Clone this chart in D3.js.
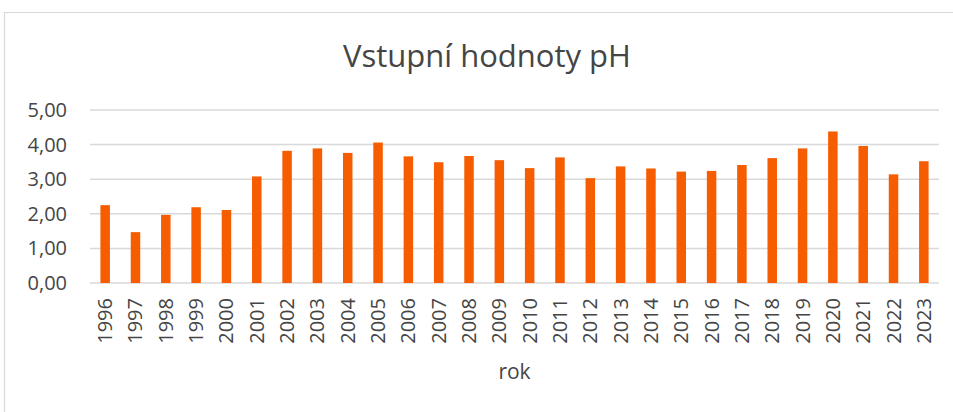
<!DOCTYPE html>
<html>
<head>
<meta charset="utf-8">
<script src="https://cdn.jsdelivr.net/npm/d3@7"></script>
<style>
  body { margin: 0; background: #fff; }
  svg { display: block; font-family: "Open Sans", sans-serif; }
</style>
</head>
<body>
<svg></svg>
<script>
const width = 953;
const height = 412;

// data
const years = ["1996", "1997", "1998", "1999", "2000", "2001", "2002", "2003", "2004", "2005",
  "2006", "2007", "2008", "2009", "2010", "2011", "2012", "2013", "2014", "2015",
  "2016", "2017", "2018", "2019", "2020", "2021", "2022", "2023"];
const phValues = [2.25, 1.47, 1.97, 2.19, 2.11, 3.08, 3.82, 3.89, 3.76, 4.06,
  3.66, 3.49, 3.67, 3.55, 3.32, 3.63, 3.03, 3.37, 3.31, 3.22,
  3.24, 3.41, 3.61, 3.89, 4.38, 3.96, 3.14, 3.52];
const yTicks = [0, 1, 2, 3, 4, 5];

const title = "Vstupní hodnoty pH";
const xTitle = "rok";

const margin = { top: 110, right: 14, bottom: 129, left: 90 };
const textColor = "#454545";

const cz = d3.formatLocale({ decimal: ",", thousands: " ", grouping: [3], currency: ["", " Kč"] });
const fmt = cz.format(".2f");

const svg = d3.select("svg").attr("width", width).attr("height", height);

// chart area border
svg.append("path")
  .attr("d", `M4.5,${height} V12.5 H${width}`)
  .attr("fill", "none")
  .attr("stroke", "#d9d9d9")
  .attr("stroke-width", 1.2);

const x = d3.scaleBand()
  .domain(years)
  .range([margin.left, width - margin.right])
  .paddingInner(0.687)
  .paddingOuter(0.3435);

const y = d3.scaleLinear()
  .domain([0, 5])
  .range([height - margin.bottom, margin.top]);

// gridlines
svg.append("g")
  .selectAll("line")
  .data(yTicks)
  .enter()
  .append("line")
  .attr("x1", margin.left)
  .attr("x2", width - margin.right)
  .attr("y1", (d) => y(d))
  .attr("y2", (d) => y(d))
  .attr("stroke", "#d9d9d9")
  .attr("stroke-width", 1.5);

// y axis labels
const yAxis = svg.append("g")
  .attr("transform", `translate(${margin.left},0)`)
  .call(d3.axisLeft(y).tickValues(yTicks).tickFormat(fmt).tickSize(0).tickPadding(23));
yAxis.select(".domain").remove();
yAxis.selectAll("text")
  .attr("font-size", 20)
  .attr("font-family", "Open Sans, sans-serif")
  .attr("fill", textColor);

// bars
svg.append("g")
  .selectAll("rect")
  .data(phValues)
  .enter()
  .append("rect")
  .attr("x", (d, i) => x(years[i]))
  .attr("width", x.bandwidth())
  .attr("y", (d) => y(d))
  .attr("height", (d) => y(0) - y(d))
  .attr("fill", "#f65c00");

// x axis labels
const xAxis = svg.append("g")
  .attr("transform", `translate(0,${height - margin.bottom})`)
  .call(d3.axisBottom(x).tickSize(0));
xAxis.select(".domain").remove();
xAxis.selectAll("text")
  .attr("font-size", 20)
  .attr("font-family", "Open Sans, sans-serif")
  .attr("fill", textColor)
  .attr("text-anchor", "end")
  .attr("dy", null)
  .attr("transform", "rotate(-90)")
  .attr("x", -15)
  .attr("y", 7);

// titles
svg.append("text")
  .attr("x", 487)
  .attr("y", 67)
  .attr("text-anchor", "middle")
  .attr("font-size", 31)
  .attr("fill", textColor)
  .text(title);

svg.append("text")
  .attr("x", (margin.left + width - margin.right) / 2)
  .attr("y", 379)
  .attr("text-anchor", "middle")
  .attr("font-size", 21)
  .attr("fill", textColor)
  .text(xTitle);
</script>
</body>
</html>
